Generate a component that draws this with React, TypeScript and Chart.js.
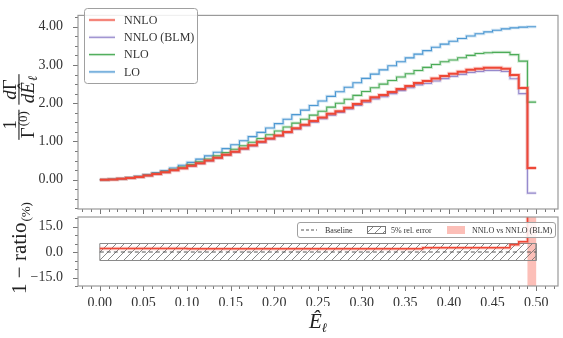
import React, { useEffect, useRef } from "react";
import { Chart, registerables } from "chart.js";

Chart.register(...registerables);

// ---------- data ----------
const BIN_EDGES = [
  0.0, 0.01, 0.02, 0.03, 0.04, 0.05, 0.06, 0.07, 0.08, 0.09,
  0.1, 0.11, 0.12, 0.13, 0.14, 0.15, 0.16, 0.17, 0.18, 0.19,
  0.2, 0.21, 0.22, 0.23, 0.24, 0.25, 0.26, 0.27, 0.28, 0.29,
  0.3, 0.31, 0.32, 0.33, 0.34, 0.35, 0.36, 0.37, 0.38, 0.39,
  0.4, 0.41, 0.42, 0.43, 0.44, 0.45, 0.46, 0.47, 0.48, 0.49, 0.5,
];

const LO = [
  0.001, 0.011, 0.029, 0.056, 0.091, 0.135, 0.185, 0.243, 0.308, 0.378,
  0.455, 0.538, 0.625, 0.717, 0.814, 0.915, 1.019, 1.127, 1.238, 1.351,
  1.466, 1.583, 1.701, 1.82, 1.94, 2.06, 2.18, 2.299, 2.417, 2.534,
  2.649, 2.762, 2.873, 2.981, 3.085, 3.186, 3.283, 3.375, 3.463, 3.545,
  3.622, 3.692, 3.757, 3.815, 3.865, 3.909, 3.944, 3.971, 3.989, 3.999,
];

const NLO = [
  0.001, 0.01, 0.025, 0.049, 0.079, 0.117, 0.161, 0.211, 0.268, 0.329,
  0.396, 0.468, 0.544, 0.624, 0.708, 0.796, 0.887, 0.98, 1.077, 1.175,
  1.275, 1.377, 1.48, 1.583, 1.688, 1.792, 1.897, 2.0, 2.103, 2.205,
  2.305, 2.403, 2.5, 2.593, 2.684, 2.772, 2.856, 2.936, 3.013, 3.084,
  3.13, 3.19, 3.25, 3.3, 3.32, 3.33, 3.33, 3.27, 3.1, 2.03,
];

const NNLO = [
  0.001, 0.009, 0.023, 0.045, 0.073, 0.108, 0.148, 0.194, 0.246, 0.302,
  0.364, 0.43, 0.5, 0.574, 0.651, 0.732, 0.815, 0.902, 0.99, 1.081,
  1.158, 1.251, 1.344, 1.438, 1.533, 1.627, 1.722, 1.793, 1.885, 1.977,
  2.066, 2.154, 2.212, 2.295, 2.375, 2.453, 2.528, 2.582, 2.649, 2.712,
  2.771, 2.824, 2.874, 2.9, 2.93, 2.93, 2.9, 2.74, 2.4, 0.31,
];

const NNLO_BLM = [
  0.001, 0.009, 0.023, 0.044, 0.072, 0.106, 0.145, 0.19, 0.241, 0.296,
  0.357, 0.422, 0.491, 0.563, 0.639, 0.718, 0.8, 0.885, 0.971, 1.06,
  1.136, 1.227, 1.318, 1.411, 1.504, 1.596, 1.689, 1.759, 1.849, 1.939,
  2.027, 2.113, 2.17, 2.251, 2.33, 2.406, 2.48, 2.517, 2.583, 2.644,
  2.702, 2.753, 2.802, 2.828, 2.857, 2.857, 2.828, 2.64, 2.25, -0.35,
];

// 1 - ratio (%) of NNLO (BLM) vs NNLO
const RATIO_PCT = [
  2.0, 2.0, 2.0, 2.0, 2.0, 2.0, 2.0, 2.0, 2.0, 2.0,
  1.9, 1.9, 1.9, 1.9, 1.9, 1.9, 1.9, 1.9, 1.9, 1.9,
  1.9, 1.9, 1.9, 1.9, 1.9, 1.9, 1.9, 1.9, 1.9, 1.9,
  1.9, 1.9, 1.9, 1.9, 1.9, 1.9, 1.9, 2.5, 2.5, 2.5,
  2.5, 2.5, 2.5, 2.5, 2.5, 2.5, 2.5, 4.2, 6.1, 210,
];

const REL_ERROR_PCT = 5;
const HIGHLIGHT_RANGE = [0.49, 0.5];

const X_MIN = -0.025;
const X_MAX = 0.525;
const X_TICKS = [0, 0.05, 0.1, 0.15, 0.2, 0.25, 0.3, 0.35, 0.4, 0.45, 0.5];
const X_TICK_LABELS = ["0.00", "0.05", "0.10", "0.15", "0.20", "0.25", "0.30", "0.35", "0.40", "0.45", "0.50"];
const X_MINOR_STEP = 0.01;

const Y_TOP_MIN = -0.765;
const Y_TOP_MAX = 4.296;
const Y_TOP_TICKS = [0, 1, 2, 3, 4];
const Y_TOP_LABELS = ["0.00", "1.00", "2.00", "3.00", "4.00"];
const Y_TOP_MINOR_STEP = 0.25;

const Y_BOT_MIN = -20;
const Y_BOT_MAX = 20.6;
const Y_BOT_TICKS = [-15, 0, 15];
const Y_BOT_LABELS = ["\u221215.0", "0.0", "15.0"];
const Y_BOT_MINOR_STEP = 5;

const SERIES_LABELS = ["NNLO", "NNLO (BLM)", "NLO", "LO"];

// ---------- styles ----------
const RED = "rgb(238,72,55)";
const PURPLE = "rgb(150,138,205)";
const GREEN = "rgb(76,172,88)";
const BLUE = "rgb(76,152,210)";
const halo = (c: string, a: number) => c.replace("rgb(", "rgba(").replace(")", `,${a})`);
const SPAN_COLOR = "rgba(250,128,114,0.5)";
const SERIF = '"Liberation Serif", "DejaVu Serif", serif';
const TEXT = "#333";

function hist(values: number[]) {
  const pts = values.map((v, i) => ({ x: BIN_EDGES[i], y: v }));
  pts.push({ x: BIN_EDGES[values.length], y: values[values.length - 1] });
  return pts;
}

function stepList(min: number, max: number, step: number) {
  const out: number[] = [];
  const start = Math.ceil(min / step - 1e-9);
  const end = Math.floor(max / step + 1e-9);
  for (let k = start; k <= end; k++) out.push(+(k * step).toFixed(6));
  return out;
}

function makeHatch() {
  const c = document.createElement("canvas");
  c.width = 8;
  c.height = 8;
  const g = c.getContext("2d")!;
  g.strokeStyle = "#6a6a6a";
  g.lineWidth = 0.8;
  g.beginPath();
  g.moveTo(-1, 9);
  g.lineTo(9, -1);
  g.moveTo(-1, 1);
  g.lineTo(1, -1);
  g.moveTo(7, 9);
  g.lineTo(9, 7);
  g.stroke();
  return g.createPattern(c, "repeat")!;
}

function framePlugin(id: string, yMinorStep: number) {
  return {
    id,
    afterDraw(chart: any) {
      const { ctx, chartArea: a, scales } = chart;
      const xs = scales.x;
      const ys = scales.y;
      ctx.save();
      ctx.strokeStyle = "#777";
      ctx.lineWidth = 1;
      ctx.beginPath();
      for (const v of stepList(X_MIN, X_MAX, X_MINOR_STEP)) {
        const px = Math.round(xs.getPixelForValue(v)) + 0.5;
        const major = X_TICKS.some((t) => Math.abs(t - v) < 1e-6);
        ctx.moveTo(px, a.bottom);
        ctx.lineTo(px, a.bottom + (major ? 5 : 3));
      }
      for (const v of stepList(ys.min, ys.max, yMinorStep)) {
        const py = Math.round(ys.getPixelForValue(v)) + 0.5;
        const major = ys.ticks.some((t: any) => Math.abs(t.value - v) < 1e-6);
        ctx.moveTo(a.left, py);
        ctx.lineTo(a.left - (major ? 5 : 3), py);
      }
      ctx.stroke();
      ctx.strokeStyle = "#9a9a9a";
      ctx.lineWidth = 1.2;
      ctx.strokeRect(a.left, a.top, a.right - a.left, a.bottom - a.top);
      ctx.restore();
    },
  };
}

function roundRect(ctx: CanvasRenderingContext2D, x: number, y: number, w: number, h: number, r: number) {
  ctx.beginPath();
  ctx.moveTo(x + r, y);
  ctx.lineTo(x + w - r, y);
  ctx.quadraticCurveTo(x + w, y, x + w, y + r);
  ctx.lineTo(x + w, y + h - r);
  ctx.quadraticCurveTo(x + w, y + h, x + w - r, y + h);
  ctx.lineTo(x + r, y + h);
  ctx.quadraticCurveTo(x, y + h, x, y + h - r);
  ctx.lineTo(x, y + r);
  ctx.quadraticCurveTo(x, y, x + r, y);
  ctx.closePath();
}

const topDecor = {
  id: "topDecor",
  afterDraw(chart: any) {
    const ctx: CanvasRenderingContext2D = chart.ctx;
    ctx.save();
    // legend
    roundRect(ctx, 84.5, 8.5, 113, 75, 3);
    ctx.fillStyle = "rgba(255,255,255,0.85)";
    ctx.fill();
    ctx.strokeStyle = "#a0a0a0";
    ctx.lineWidth = 1;
    ctx.stroke();
    const colors = [RED, PURPLE, GREEN, BLUE];
    ctx.font = `12px ${SERIF}`;
    ctx.textBaseline = "middle";
    SERIES_LABELS.forEach((lab, i) => {
      const y = 20 + i * 17.3;
      ctx.strokeStyle = halo(colors[i], 0.25);
      ctx.lineWidth = 3;
      ctx.beginPath();
      ctx.moveTo(89, y);
      ctx.lineTo(115, y);
      ctx.stroke();
      ctx.strokeStyle = colors[i];
      ctx.lineWidth = 1.1;
      ctx.beginPath();
      ctx.moveTo(89, y);
      ctx.lineTo(115, y);
      ctx.stroke();
      ctx.fillStyle = TEXT;
      ctx.fillText(lab, 124, y + 0.5);
    });
    // y title: 1/Γ^(0) dΓ/dÊ_ℓ
    ctx.translate(19, 107);
    ctx.rotate(-Math.PI / 2);
    ctx.fillStyle = "#222";
    ctx.textBaseline = "alphabetic";
    const big = `19px ${SERIF}`;
    const bigI = `italic 19px ${SERIF}`;
    const small = `13px ${SERIF}`;
    const smallI = `italic 13px ${SERIF}`;
    ctx.font = big;
    const w1 = ctx.measureText("1").width;
    const wG = ctx.measureText("\u0393").width;
    ctx.font = small;
    const w0 = ctx.measureText("(0)").width;
    ctx.font = bigI;
    const wd = ctx.measureText("d").width;
    const wE = ctx.measureText("\u00CA").width;
    ctx.font = smallI;
    const wl = ctx.measureText("\u2113").width;
    const den1 = wG + w0 + 1;
    const f1 = Math.max(w1, den1) + 3;
    const num2 = wd + wG;
    const den2 = wd + wE + wl + 1;
    const f2 = Math.max(num2, den2) + 3;
    const gap = 5;
    const total = f1 + gap + f2;
    let x = -total / 2;
    ctx.fillRect(x, -0.6, f1, 1.1);
    ctx.font = big;
    ctx.fillText("1", x + (f1 - w1) / 2, -3.5);
    let dx = x + (f1 - den1) / 2;
    ctx.fillText("\u0393", dx, 15);
    ctx.font = small;
    ctx.fillText("(0)", dx + wG + 1, 8);
    x += f1 + gap;
    ctx.fillRect(x, -0.6, f2, 1.1);
    dx = x + (f2 - num2) / 2;
    ctx.font = bigI;
    ctx.fillText("d", dx, -3.5);
    ctx.font = big;
    ctx.fillText("\u0393", dx + wd, -3.5);
    dx = x + (f2 - den2) / 2;
    ctx.font = bigI;
    ctx.fillText("d", dx, 15);
    ctx.fillText("\u00CA", dx + wd, 15);
    ctx.font = smallI;
    ctx.fillText("\u2113", dx + wd + wE + 1, 18);
    ctx.restore();
  },
};

function botDecor(hatch: CanvasPattern) {
  return {
    id: "botDecor",
    afterDraw(chart: any) {
      const ctx: CanvasRenderingContext2D = chart.ctx;
      ctx.save();
      // legend
      roundRect(ctx, 297.5, 222.5, 258, 15, 2.5);
      ctx.fillStyle = "rgba(255,255,255,0.85)";
      ctx.fill();
      ctx.strokeStyle = "#a0a0a0";
      ctx.lineWidth = 1;
      ctx.stroke();
      const cy = 230;
      ctx.strokeStyle = "#555";
      ctx.setLineDash([3, 2]);
      ctx.beginPath();
      ctx.moveTo(301, cy);
      ctx.lineTo(317, cy);
      ctx.stroke();
      ctx.setLineDash([]);
      ctx.fillStyle = hatch;
      ctx.fillRect(367, 226.5, 18, 7);
      ctx.strokeStyle = "#777";
      ctx.strokeRect(367.5, 226.5, 18, 7);
      ctx.fillStyle = SPAN_COLOR;
      ctx.fillRect(447, 226, 18, 8);
      ctx.fillStyle = TEXT;
      ctx.font = `8px ${SERIF}`;
      ctx.textBaseline = "middle";
      ctx.fillText("Baseline", 325, cy + 0.5);
      ctx.fillText(`${REL_ERROR_PCT}% rel. error`, 391, cy + 0.5);
      ctx.fillText("NNLO vs NNLO (BLM)", 472, cy + 0.5);
      ctx.restore();

      // y title
      ctx.save();
      ctx.fillStyle = "#222";
      const big = `21px ${SERIF}`;
      const small = `13px ${SERIF}`;
      ctx.font = big;
      const t1 = "1 \u2212 ratio";
      const w1 = ctx.measureText(t1).width;
      ctx.font = small;
      const w2 = ctx.measureText("(%)").width;
      const total = w1 + w2 + 1;
      ctx.translate(26, 248);
      ctx.rotate(-Math.PI / 2);
      ctx.font = big;
      ctx.fillText(t1, -total / 2, 0);
      ctx.font = small;
      ctx.fillText("(%)", -total / 2 + w1 + 1, 4);
      ctx.restore();

      // x title
      ctx.save();
      ctx.fillStyle = "#222";
      ctx.font = `italic 21px ${SERIF}`;
      const wE = ctx.measureText("\u00CA").width;
      ctx.font = `italic 13px ${SERIF}`;
      const wl = ctx.measureText("\u2113").width;
      const x0 = 318 - (wE + wl) / 2;
      ctx.font = `italic 21px ${SERIF}`;
      ctx.fillText("\u00CA", x0, 328);
      ctx.font = `italic 13px ${SERIF}`;
      ctx.fillText("\u2113", x0 + wE, 332);
      ctx.restore();
    },
  };
}

export default function App() {
  const topRef = useRef<HTMLCanvasElement>(null);
  const botRef = useRef<HTMLCanvasElement>(null);

  useEffect(() => {
    const tickFont = { family: SERIF, size: 14 };
    const lineDs = (label: string, values: number[], color: string, width: number) => ({
      label,
      data: hist(values),
      borderColor: color,
      borderWidth: width,
      stepped: "before" as const,
      pointRadius: 0,
      fill: false,
    });

    const top = new Chart(topRef.current!, {
      type: "line",
      data: {
        datasets: [
          lineDs(SERIES_LABELS[0], NNLO, RED, 2),
          lineDs("", NNLO, halo(RED, 0.25), 4),
          lineDs(SERIES_LABELS[1], NNLO_BLM, PURPLE, 1.1),
          lineDs("", NNLO_BLM, halo(PURPLE, 0.25), 3),
          lineDs(SERIES_LABELS[2], NLO, GREEN, 1.1),
          lineDs("", NLO, halo(GREEN, 0.25), 3),
          lineDs(SERIES_LABELS[3], LO, BLUE, 1.1),
          lineDs("", LO, halo(BLUE, 0.25), 3),
        ] as any,
      },
      options: {
        animation: false,
        responsive: false,
        devicePixelRatio: 1,
        layout: { padding: { top: 4, left: 0, right: 5, bottom: 129 } },
        plugins: { legend: { display: false }, tooltip: { enabled: false } },
        scales: {
          x: { type: "linear", min: X_MIN, max: X_MAX, display: false },
          y: {
            type: "linear",
            min: Y_TOP_MIN,
            max: Y_TOP_MAX,
            grid: { display: false },
            border: { display: false },
            afterFit: (s: any) => {
              s.width = 78;
            },
            afterBuildTicks: (s: any) => {
              s.ticks = Y_TOP_TICKS.map((v) => ({ value: v }));
            },
            ticks: {
              callback: (_v: any, i: number) => Y_TOP_LABELS[i],
              padding: 7,
              color: TEXT,
              font: tickFont,
            },
          },
        },
      } as any,
      plugins: [framePlugin("frameTop", Y_TOP_MINOR_STEP), topDecor],
    });

    const hatch = makeHatch();
    const bot = new Chart(botRef.current!, {
      type: "line",
      data: {
        datasets: [
          lineDs("ratio", RATIO_PCT, RED, 1.5),
          lineDs("", RATIO_PCT, halo(RED, 0.25), 3.5),
          {
            label: "Baseline",
            data: [
              { x: BIN_EDGES[0], y: 0 },
              { x: BIN_EDGES[BIN_EDGES.length - 1], y: 0 },
            ],
            borderColor: "#555",
            borderWidth: 1,
            borderDash: [4, 3],
            pointRadius: 0,
            fill: false,
          },
          {
            label: "5% rel. error",
            data: [
              { x: BIN_EDGES[0], y: -REL_ERROR_PCT },
              { x: BIN_EDGES[0], y: REL_ERROR_PCT },
              { x: BIN_EDGES[BIN_EDGES.length - 1], y: REL_ERROR_PCT },
              { x: BIN_EDGES[BIN_EDGES.length - 1], y: -REL_ERROR_PCT },
              { x: BIN_EDGES[0], y: -REL_ERROR_PCT },
            ],
            borderColor: "#8a8a8a",
            borderWidth: 1,
            backgroundColor: hatch,
            pointRadius: 0,
            fill: "shape",
          },
          {
            label: "NNLO vs NNLO (BLM)",
            data: [
              { x: HIGHLIGHT_RANGE[0], y: Y_BOT_MIN },
              { x: HIGHLIGHT_RANGE[0], y: Y_BOT_MAX },
              { x: HIGHLIGHT_RANGE[1], y: Y_BOT_MAX },
              { x: HIGHLIGHT_RANGE[1], y: Y_BOT_MIN },
              { x: HIGHLIGHT_RANGE[0], y: Y_BOT_MIN },
            ],
            borderWidth: 0,
            borderColor: "rgba(0,0,0,0)",
            backgroundColor: SPAN_COLOR,
            pointRadius: 0,
            fill: "shape",
          },
        ] as any,
      },
      options: {
        animation: false,
        responsive: false,
        devicePixelRatio: 1,
        layout: { padding: { top: 217, left: 0, right: 5, bottom: 32 } },
        plugins: { legend: { display: false }, tooltip: { enabled: false } },
        scales: {
          x: {
            type: "linear",
            min: X_MIN,
            max: X_MAX,
            grid: { display: false },
            border: { display: false },
            afterFit: (s: any) => {
              s.height = 20;
            },
            afterBuildTicks: (s: any) => {
              s.ticks = X_TICKS.map((v) => ({ value: v }));
            },
            ticks: {
              callback: (_v: any, i: number) => X_TICK_LABELS[i],
              autoSkip: false,
              maxRotation: 0,
              padding: 1,
              color: TEXT,
              font: tickFont,
            },
          },
          y: {
            type: "linear",
            min: Y_BOT_MIN,
            max: Y_BOT_MAX,
            grid: { display: false },
            border: { display: false },
            afterFit: (s: any) => {
              s.width = 78;
            },
            afterBuildTicks: (s: any) => {
              s.ticks = Y_BOT_TICKS.map((v) => ({ value: v }));
            },
            ticks: {
              callback: (_v: any, i: number) => Y_BOT_LABELS[i],
              padding: 7,
              color: TEXT,
              font: tickFont,
            },
          },
        },
      } as any,
      plugins: [framePlugin("frameBot", Y_BOT_MINOR_STEP), botDecor(hatch)],
    });

    return () => {
      top.destroy();
      bot.destroy();
    };
  }, []);

  return (
    <div style={{ position: "fixed", left: 0, top: 0, width: 563, height: 338, background: "#fff" }}>
      <canvas ref={topRef} width={563} height={338} style={{ position: "absolute", left: 0, top: 0, width: 563, height: 338 }} />
      <canvas ref={botRef} width={563} height={338} style={{ position: "absolute", left: 0, top: 0, width: 563, height: 338 }} />
    </div>
  );
}
